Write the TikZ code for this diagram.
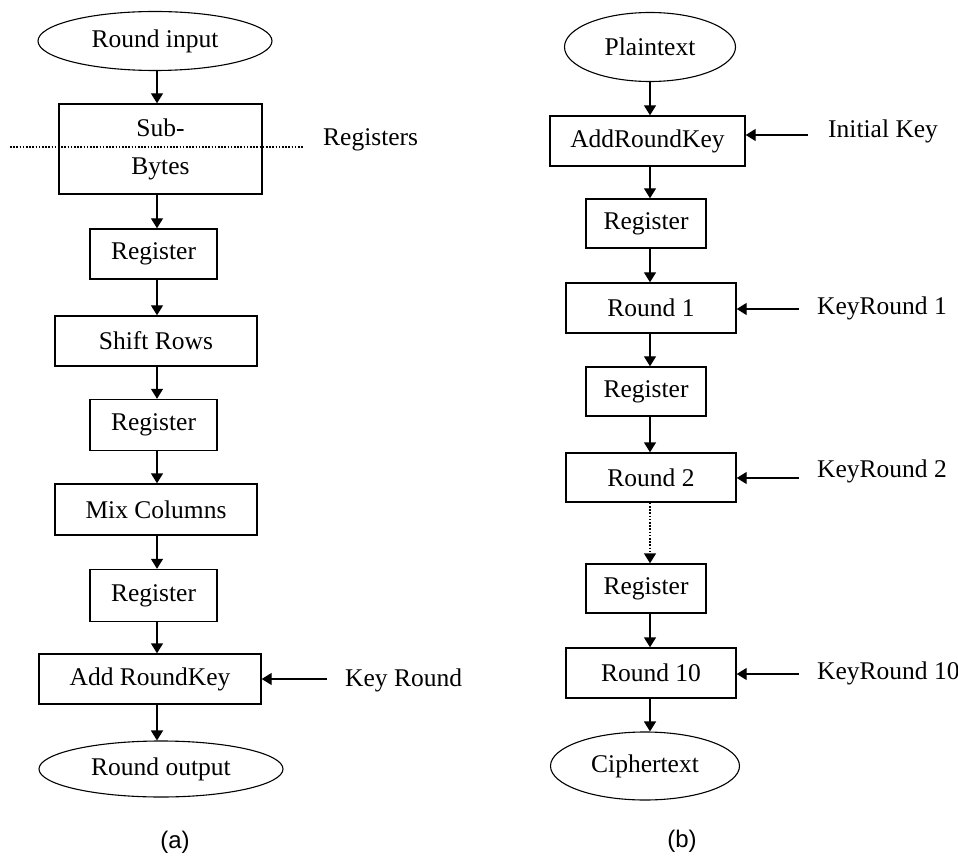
\documentclass[tikz,border=0pt]{standalone}
\usepackage{fontspec}
\setmainfont{Liberation Serif}
\newfontfamily\labfont{Liberation Sans}
\usetikzlibrary{shapes.geometric,arrows.meta}
\begin{document}
\begin{tikzpicture}[x=1pt,y=-1pt,
 box/.style={draw, line width=1.4pt, rectangle, inner sep=0pt, font=\fontsize{25.5}{38}\selectfont, align=center},
 oval/.style={draw, line width=1.1pt, ellipse, inner sep=0pt, font=\fontsize{25.5}{30}\selectfont},
 lab/.style={anchor=base west, inner sep=0pt, font=\fontsize{25.5}{30}\selectfont},
 flow/.style={-{Triangle[length=10pt,width=12pt]}, line width=1.4pt},
 dotflow/.style={flow, dash pattern=on 1.6pt off 1.6pt},
 captext/.style={inner sep=0pt, font=\labfont\fontsize{24}{28}\selectfont}]
\useasboundingbox (0,0) rectangle (958,858);

% ---------- (a) ----------
\coordinate (ca) at (157,0);
\node[oval, minimum width=234pt, minimum height=59pt] (inA) at (155,41) {Round input};
\node[box, minimum width=203pt, minimum height=90pt] (sb) at (160.5,149) {\raisebox{-3pt}{Sub-}\\\raisebox{-3pt}{Bytes}};
\node[box, minimum width=127pt, minimum height=50pt] (rA1) at (153.5,254) {Register};
\node[box, minimum width=202pt, minimum height=50pt] (sr) at (156,341) {Shift Rows};
\node[box, minimum width=127pt, minimum height=51pt] (rA2) at (153.5,425) {Register};
\node[box, minimum width=202pt, minimum height=51pt] (mc) at (156,509.5) {Mix Columns};
\node[box, minimum width=127pt, minimum height=52pt] (rA3) at (153.5,595.5) {Register};
\node[box, minimum width=222pt, minimum height=50pt] (ark) at (150,679) {Add RoundKey};
\node[oval, minimum width=244pt, minimum height=56pt] (outA) at (161,769) {Round output};

\draw[flow] (inA.south -| ca) -- (sb.north -| ca);
\draw[flow] (sb.south -| ca) -- (rA1.north -| ca);
\draw[flow] (rA1.south -| ca) -- (sr.north -| ca);
\draw[flow] (sr.south -| ca) -- (rA2.north -| ca);
\draw[flow] (rA2.south -| ca) -- (mc.north -| ca);
\draw[flow] (mc.south -| ca) -- (rA3.north -| ca);
\draw[flow] (rA3.south -| ca) -- (ark.north -| ca);
\draw[flow] (ark.south -| ca) -- (outA.north -| ca);

\coordinate (dl) at (10,147);
\coordinate (dr) at (303,147);
\draw[line width=1.4pt, dash pattern=on 1.6pt off 1.6pt] (dl) -- (dr);
\node[lab] (regs) at (323,146) {Registers};

\coordinate (kA) at (327,679);
\draw[flow] (kA) -- (kA -| ark.east);
\node[lab] (keyA) at (345,686) {Key Round};

\node[captext] (capA) at (175,842) {(a)};

% ---------- (b) ----------
\coordinate (cb) at (650,0);
\node[oval, minimum width=171pt, minimum height=69pt] (pt) at (650,47) {Plaintext};
\node[box, minimum width=195pt, minimum height=50pt] (ark2) at (647.5,141) {AddRoundKey};
\node[box, minimum width=120pt, minimum height=49pt] (rB1) at (646,223.5) {Register};
\node[box, minimum width=170pt, minimum height=50pt] (rd1) at (651,308) {Round 1};
\node[box, minimum width=120pt, minimum height=49pt] (rB2) at (646,391.5) {Register};
\node[box, minimum width=170pt, minimum height=49pt] (rd2) at (651,477.5) {Round 2};
\node[box, minimum width=120pt, minimum height=49pt] (rB3) at (646,588.5) {Register};
\node[box, minimum width=170pt, minimum height=50pt] (rd10) at (651,673) {Round 10};
\node[oval, minimum width=189pt, minimum height=68pt] (ct) at (645,766) {Ciphertext};

\draw[flow] (pt.south -| cb) -- (ark2.north -| cb);
\draw[flow] (ark2.south -| cb) -- (rB1.north -| cb);
\draw[flow] (rB1.south -| cb) -- (rd1.north -| cb);
\draw[flow] (rd1.south -| cb) -- (rB2.north -| cb);
\draw[flow] (rB2.south -| cb) -- (rd2.north -| cb);
\draw[dotflow] (rd2.south -| cb) -- (rB3.north -| cb);
\draw[flow] (rB3.south -| cb) -- (rd10.north -| cb);
\draw[flow] (rd10.south -| cb) -- (ct.north -| cb);

\coordinate (k0) at (808,135);
\coordinate (k1) at (799,309);
\coordinate (k2) at (799,478);
\coordinate (k10) at (799,674);
\draw[flow] (k0) -- (k0 -| ark2.east);
\draw[flow] (k1) -- (k1 -| rd1.east);
\draw[flow] (k2) -- (k2 -| rd2.east);
\draw[flow] (k10) -- (k10 -| rd10.east);
\node[lab] (t0) at (828,138) {Initial Key};
\node[lab] (t1) at (817,315) {KeyRound 1};
\node[lab] (t2) at (817,477) {KeyRound 2};
\node[lab] (t10) at (817,679) {KeyRound 10};

\node[captext] (capB) at (682,841) {(b)};
\end{tikzpicture}
\end{document}
